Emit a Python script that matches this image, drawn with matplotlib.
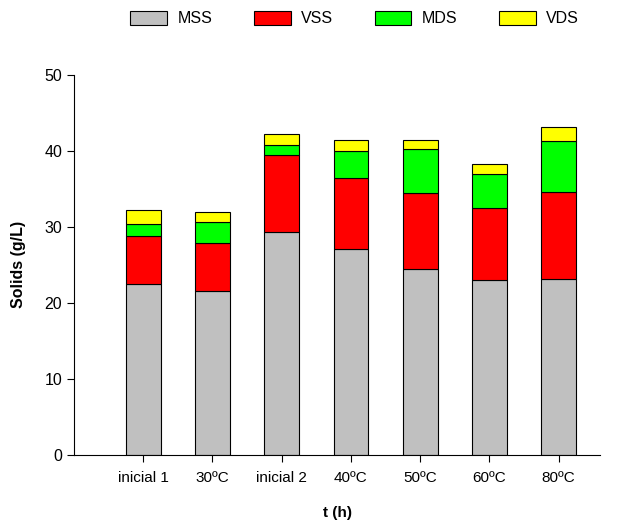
import numpy as np
import matplotlib
matplotlib.use('Agg')
import matplotlib.pyplot as plt

plt.rcParams['font.family'] = ['Liberation Sans', 'DejaVu Sans']

categories = ['inicial 1', '30ºC', 'inicial 2', '40ºC', '50ºC', '60ºC', '80ºC']
mss = [22.5, 21.6, 29.3, 27.1, 24.4, 23.0, 23.1]
vss = [6.3, 6.3, 10.1, 9.3, 10.1, 9.5, 11.5]
mds = [1.6, 2.7, 1.4, 3.6, 5.8, 4.5, 6.7]
vds = [1.8, 1.4, 1.4, 1.5, 1.2, 1.3, 1.8]

series = [('MSS', mss, '#c0c0c0'), ('VSS', vss, '#ff0000'),
          ('MDS', mds, '#00ff00'), ('VDS', vds, '#ffff00')]

fig = plt.figure(figsize=(6.22, 5.24), dpi=100)
ax = fig.add_axes([0.119, 0.132, 0.846, 0.725])

x = np.arange(len(categories))
bottom = np.zeros(len(categories))
for name, vals, color in series:
    ax.bar(x, vals, width=0.5, bottom=bottom, color=color,
           edgecolor='black', linewidth=0.8, label=name)
    bottom += np.array(vals)

ax.set_xlim(-1.0, 6.6)
ax.set_ylim(0, 50)
ax.set_xticks(x)
ax.set_xticklabels(categories, fontsize=11)
ax.set_yticks(range(0, 51, 10))
ax.tick_params(axis='y', labelsize=11.5, direction='out', length=5)
ax.tick_params(axis='x', direction='out', length=5, pad=7)
ax.spines['top'].set_visible(False)
ax.spines['right'].set_visible(False)

ax.set_xlabel('t (h)', fontsize=11, fontweight='bold', labelpad=15)
ax.set_ylabel('Solids (g/L)', fontsize=11.5, fontweight='bold', labelpad=13)

fig.legend(loc='center', bbox_to_anchor=(0.57, 0.964), ncol=4,
           frameon=False, fontsize=11.5, handlelength=2.3, handleheight=0.9,
           columnspacing=2.6, handletextpad=0.65)

plt.savefig('out.png', dpi=100)
